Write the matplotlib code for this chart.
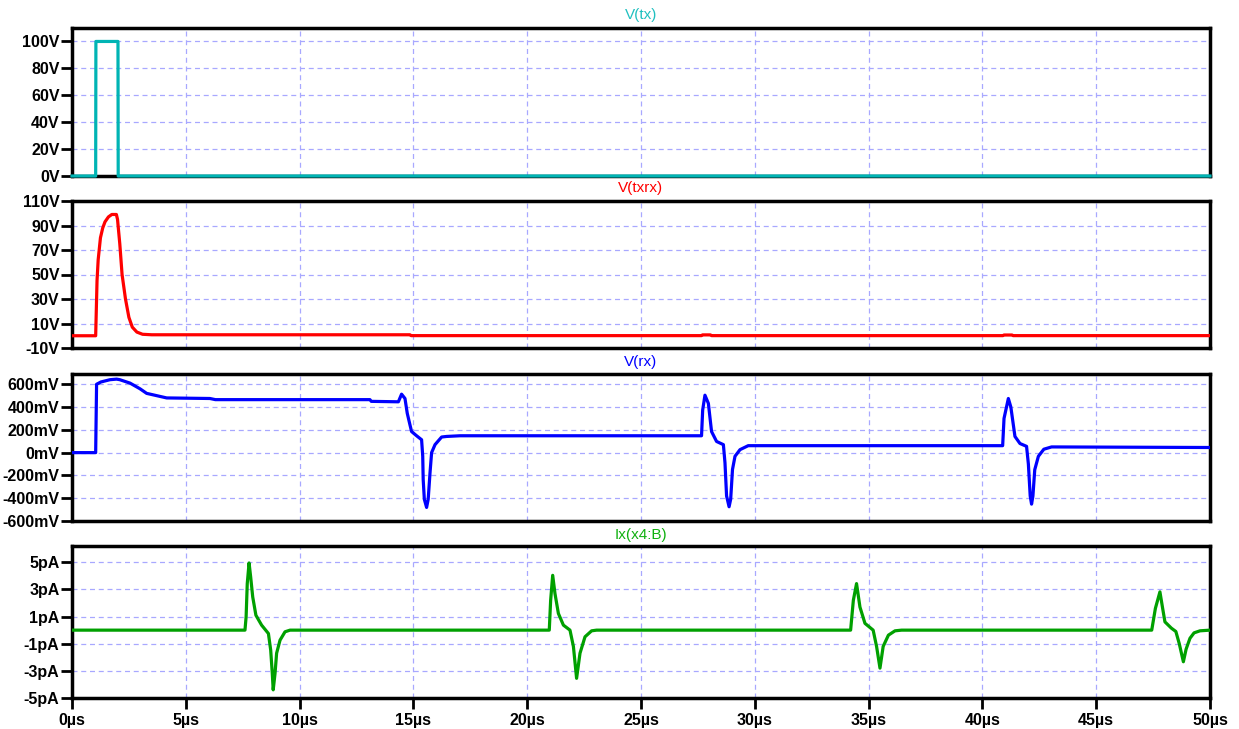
import matplotlib
matplotlib.use("Agg")
import matplotlib.pyplot as plt

# ---------------- data ----------------
time_ticks = [0, 5, 10, 15, 20, 25, 30, 35, 40, 45, 50]
time_labels = ["0µs", "5µs", "10µs", "15µs", "20µs", "25µs", "30µs", "35µs", "40µs", "45µs", "50µs"]

tx_t = [0, 1.04, 1.05, 2.02, 2.03, 50]
tx_v = [0, 0, 100, 100, 0, 0]

txrx_t = [0, 1.04, 1.10, 1.15, 1.25, 1.35, 1.45, 1.60, 1.75, 1.95, 2.00, 2.10, 2.20,
          2.35, 2.50, 2.65, 2.85, 3.10, 3.50, 14.85, 14.9, 27.66, 27.7, 28.05, 28.1,
          40.9, 40.95, 41.3, 41.35, 50]
txrx_v = [0, 0, 45, 62, 80, 88, 93, 97, 99, 99, 95, 75, 50,
          30, 15, 7, 3, 1.2, 0.8, 0.8, 0.1, 0.1, 0.7, 0.7, 0.1,
          0.1, 0.6, 0.6, 0.1, 0.1]

rx_t = [0, 1.04, 1.08, 1.27, 1.67, 1.96, 2.10, 2.55, 2.99, 3.28, 3.72, 4.16, 6.06,
        6.30, 13.09, 13.15, 14.34, 14.48, 14.63, 14.73, 14.85, 14.92, 15.14, 15.36,
        15.41, 15.43, 15.48, 15.58, 15.65, 15.73, 15.80, 15.95, 16.24, 16.46, 17.05,
        27.66, 27.71, 27.81, 27.96, 28.10, 28.32, 28.62, 28.69, 28.76, 28.87, 28.94,
        29.02, 29.13, 29.35, 29.71,
        40.89, 40.95, 41.14, 41.25, 41.43, 41.65, 41.94, 42.02, 42.10, 42.16, 42.22,
        42.30, 42.46, 42.70, 43.04, 50]
rx_v = [0, 0, 600, 620, 640, 645, 640, 610, 560, 520, 500, 480, 475,
        465, 465, 450, 446, 513, 475, 345, 243, 185, 148, 113,
        -32, -235, -409, -481, -409, -177, 0, 70, 137, 142, 148,
        148, 374, 504, 432, 185, 98, 70, -90, -380, -475, -409,
        -148, -32, 26, 61,
        61, 300, 475, 400, 142, 80, 55, -100, -380, -452, -380,
        -150, -32, 30, 50, 45]

ix_t = [0, 7.60, 7.65, 7.70, 7.78, 7.85, 7.94, 8.08, 8.33, 8.63, 8.73, 8.80, 8.84,
        8.92, 8.99, 9.14, 9.36, 9.58,
        20.97, 21.03, 21.12, 21.22, 21.37, 21.59, 21.88, 22.03, 22.17, 22.32, 22.54,
        22.83, 23.05,
        34.21, 34.33, 34.47, 34.62, 34.84, 35.20, 35.35, 35.50, 35.64, 35.87, 36.16,
        36.45,
        47.44, 47.60, 47.80, 47.92, 48.02, 48.30, 48.50, 48.65, 48.83, 48.95, 49.12,
        49.30, 49.56, 50]
ix_v = [0, 0, 0.98, 3.43, 4.95, 3.92, 2.45, 1.1, 0.37, -0.25, -1.47, -3.2, -4.4,
        -3.2, -1.7, -0.74, -0.12, 0,
        0, 2.2, 4.04, 2.7, 1.23, 0.37, 0, -1.2, -3.55, -1.7, -0.49,
        -0.05, 0,
        0, 2.2, 3.43, 1.7, 0.5, 0, -1.2, -2.8, -1.2, -0.37, -0.05,
        0,
        0, 1.6, 2.82, 1.6, 0.61, 0.15, -0.1, -1.0, -2.33, -1.4, -0.6,
        -0.2, -0.05, 0]

tx_ticks = [0, 20, 40, 60, 80, 100]
tx_labels = ["0V", "20V", "40V", "60V", "80V", "100V"]
txrx_ticks = [-10, 10, 30, 50, 70, 90, 110]
txrx_labels = ["-10V", "10V", "30V", "50V", "70V", "90V", "110V"]
rx_ticks = [-600, -400, -200, 0, 200, 400, 600]
rx_labels = ["-600mV", "-400mV", "-200mV", "0mV", "200mV", "400mV", "600mV"]
ix_ticks = [-5, -3, -1, 1, 3, 5]
ix_labels = ["-5pA", "-3pA", "-1pA", "1pA", "3pA", "5pA"]

titles = ["V(tx)", "V(txrx)", "V(rx)", "Ix(x4:B)"]
# ---------------- figure ----------------
W, H = 1239, 729
fig = plt.figure(figsize=(W / 100, H / 100), dpi=100)
fig.patch.set_facecolor("white")

left_px, right_px = 72, 1210
panels = [  # (top_px, bottom_px, ylim)
    (28, 176, (0, 110)),
    (201, 348, (-10, 110)),
    (374, 521, (-600, 690)),
    (546, 698, (-5, 6.2)),
]
title_y_px = [15, 188, 362, 535]
line_colors = ["#00b4b4", "#ff0000", "#0000ff", "#00a000"]
title_colors = ["#20c0c0", "#ff0000", "#0000ff", "#10b010"]
series = [(tx_t, tx_v), (txrx_t, txrx_v), (rx_t, rx_v), (ix_t, ix_v)]
yticks = [(tx_ticks, tx_labels), (txrx_ticks, txrx_labels), (rx_ticks, rx_labels), (ix_ticks, ix_labels)]

grid_color = "#a8a8ff"
tick_font = dict(family="Liberation Sans", weight="bold", size=11.5)

for i, (top, bot, ylim) in enumerate(panels):
    ax = fig.add_axes([left_px / W, 1 - bot / H, (right_px - left_px) / W, (bot - top) / H])
    t, v = series[i]
    ax.plot(t, v, color=line_colors[i], lw=2.3, zorder=3, clip_on=(i != 0),
            solid_joinstyle="round")
    ax.set_xlim(0, 50)
    ax.set_ylim(*ylim)
    ax.set_xticks(time_ticks)
    tk, tl = yticks[i]
    ax.set_yticks(tk)
    ax.set_yticklabels(tl, fontdict=tick_font)
    if i == 3:
        ax.set_xticklabels(time_labels, fontdict=tick_font)
        ax.tick_params(axis="x", direction="out", length=8, width=2, pad=3)
    else:
        ax.tick_params(axis="x", length=0, labelbottom=False)
    ax.tick_params(axis="y", direction="out", length=8, width=2, pad=1)
    for s in ax.spines.values():
        s.set_linewidth(2.5)
        s.set_color("black")
        s.set_zorder(2.5)
    ax.grid(True, color=grid_color, linestyle=(0, (4, 3)), linewidth=0.9, zorder=1)
    ax.set_axisbelow(True)
    fig.text((left_px + right_px) / 2 / W, 1 - title_y_px[i] / H, titles[i],
             color=title_colors[i], ha="center", va="center",
             family="Liberation Sans", size=11)

fig.savefig("out.png", dpi=100, facecolor="white")
